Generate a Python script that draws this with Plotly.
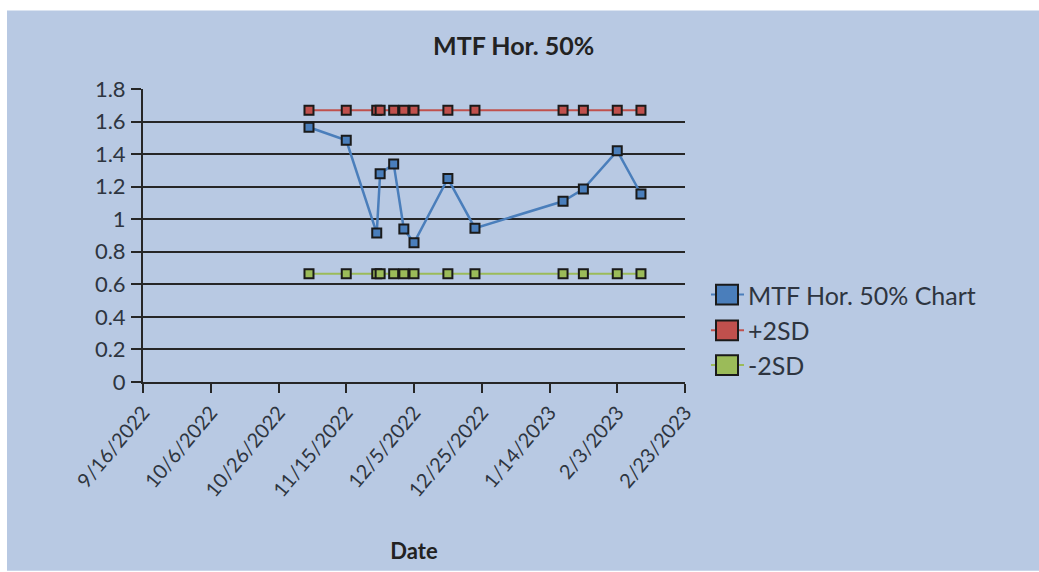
import plotly.graph_objects as go

# Measurement dates and MTF horizontal 50% values
dates = ["2022-11-04", "2022-11-15", "2022-11-24", "2022-11-25", "2022-11-29",
         "2022-12-02", "2022-12-05", "2022-12-15", "2022-12-23", "2023-01-18",
         "2023-01-24", "2023-02-03", "2023-02-10"]
mtf_values = [1.565, 1.485, 0.915, 1.28, 1.34, 0.94, 0.855, 1.25, 0.945, 1.11,
              1.185, 1.42, 1.155]
plus_2sd = [1.67, 1.67, 1.67, 1.67, 1.67, 1.67, 1.67, 1.67, 1.67, 1.67, 1.67, 1.67, 1.67]
minus_2sd = [0.665, 0.665, 0.665, 0.665, 0.665, 0.665, 0.665, 0.665, 0.665, 0.665,
             0.665, 0.665, 0.665]

series_names = ["MTF Hor. 50% Chart", "+2SD", "-2SD"]
series_colors = ["#4A7EBB", "#C0504D", "#9BBB59"]

W, H = 1039, 572
L, R, T, B = 143, 354, 89, 188
PW, PH = W - L - R, H - T - B
BG = "#B8C9E3"
FONT = "Lato, Open Sans, sans-serif"
TXT = "#2E3540"


def px_x(p):
    return (p - L) / PW


def px_y(p):
    return (H - B - p) / PH


fig = go.Figure()
# SD bands first so the measured series sits on top
for name, ys, col, lw in zip(series_names[::-1],
                             [minus_2sd, plus_2sd, mtf_values],
                             series_colors[::-1], [2, 2, 2.5]):
    fig.add_trace(go.Scatter(
        x=dates, y=ys, name=name, mode="lines+markers",
        line=dict(color=col, width=lw),
        marker=dict(symbol="square", size=9, color=col,
                    line=dict(color="#1A1A1A", width=2)),
        showlegend=False,
    ))

shapes = [
    # chart area panel
    dict(type="rect", xref="paper", yref="paper", layer="below",
         x0=px_x(7), x1=px_x(W + 2), y0=px_y(10), y1=px_y(H + 2),
         fillcolor=BG, line=dict(width=0)),
]
annotations = [
    dict(text="<b>MTF Hor. 50%</b>", xref="paper", yref="paper",
         x=px_x(513), y=px_y(45), showarrow=False, xanchor="center", yanchor="middle",
         font=dict(family=FONT, size=25, color="#222222")),
]

# legend keys
leg_y = [296, 332, 367]
for name, col, yy in zip(series_names, series_colors, leg_y):
    shapes.append(dict(type="line", xref="paper", yref="paper",
                       x0=px_x(711), x1=px_x(744), y0=px_y(yy), y1=px_y(yy),
                       line=dict(color=col, width=2)))
    shapes.append(dict(type="rect", xref="paper", yref="paper",
                       x0=px_x(716), x1=px_x(738), y0=px_y(yy - 10), y1=px_y(yy + 10),
                       fillcolor=col, line=dict(color="#1A1A1A", width=2)))
    annotations.append(dict(text=name, xref="paper", yref="paper",
                            x=px_x(746), y=px_y(yy), showarrow=False,
                            xanchor="left", yanchor="middle",
                            font=dict(family=FONT, size=25, color=TXT)))

fig.update_layout(
    width=W, height=H,
    margin=dict(l=L, r=R, t=T, b=B, pad=0),
    paper_bgcolor="white", plot_bgcolor=BG,
    font=dict(family=FONT, size=20, color=TXT),
    shapes=shapes, annotations=annotations,
    showlegend=False,
)
fig.update_xaxes(
    type="date", range=["2022-09-16", "2023-02-23"],
    tick0="2022-09-16", dtick=20 * 86400000, tickformat="%-m/%-d/%Y",
    tickangle=-50, ticks="outside", ticklen=9, tickwidth=2, tickcolor="#262626",
    showgrid=False, zeroline=False,
    showline=True, linecolor="#262626", linewidth=2,
    tickfont=dict(family=FONT, size=20, color=TXT),
    title=dict(text="<b>Date</b>", font=dict(family=FONT, size=22, color="#222222"),
               standoff=44),
)
fig.update_yaxes(
    range=[0, 1.8], dtick=0.2, tick0=0,
    ticks="outside", ticklen=10, tickwidth=2, tickcolor="#262626",
    showgrid=True, gridcolor="#262626", gridwidth=2,
    zeroline=False, showline=True, linecolor="#262626", linewidth=2,
    tickfont=dict(family=FONT, size=22, color=TXT),
    ticklabelstandoff=1,
)

fig.write_html("out.html")
